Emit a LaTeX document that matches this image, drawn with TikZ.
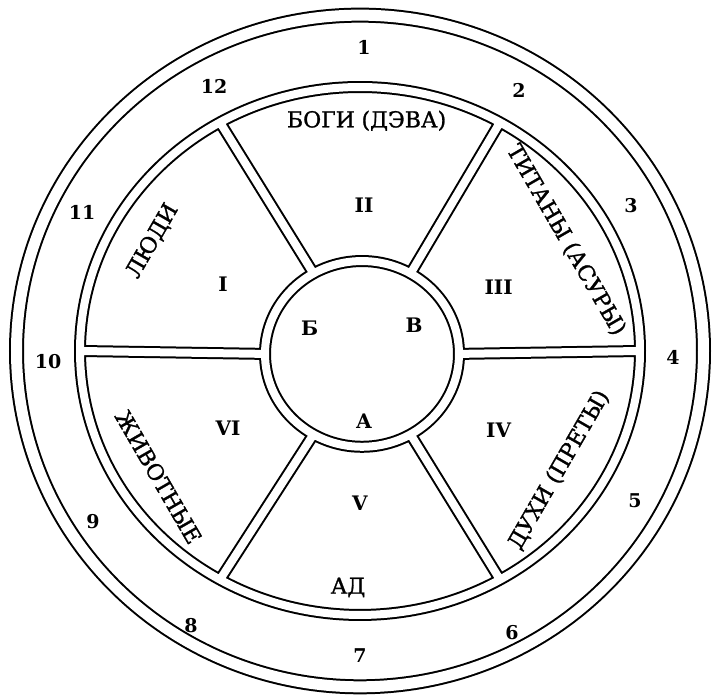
\documentclass[tikz,border=0pt]{standalone}
\usepackage{fontspec}
\setmainfont{DejaVu Serif}
\newfontfamily\heavyserif[FakeBold=1.2]{DejaVu Serif}
\usetikzlibrary{calc}

\begin{document}
\begin{tikzpicture}[x=0.5pt, y=0.48885pt,
  every node/.style={font=\fontsize{11}{13}\selectfont\heavyserif, inner sep=0pt},
  num/.style={font=\fontsize{9.5}{12}\selectfont\bfseries},
  roman/.style={font=\fontsize{10}{12}\selectfont\bfseries},
  channel/.style={double, double distance=4pt, line width=1pt},
  rim/.style={double, double distance=5.5pt, line width=1pt}]
\useasboundingbox (0,0) rectangle (714,714);
\def\Rrim{343.5}\def\Rring{280}\def\Rringy{270}\def\Rhub{97}\def\Rhuby{95}
\coordinate (c) at (360,355);
\coordinate (hub) at (362,352);
% outer rim with the twelve positions
\draw[rim] (c) circle (\Rrim);
\foreach \n/\x/\y in {1/364/665, 2/519/621, 3/631/504, 4/673/348.5,
  5/635/201.6, 6/512/66.6, 7/360/43, 8/191/73.7, 9/93/181,
  10/48/343.8, 11/82/497, 12/214/625.5}
  \node[num] (pos\n) at (\x,\y) {\n};
% inner ring, hub and six spokes drawn as one channel
\draw[channel] (c) ellipse [x radius=\Rring, y radius=\Rringy]
  (hub) ellipse [x radius=\Rhub, y radius=\Rhuby]
  \foreach \a in {0,60,...,300}{
    ($(hub)+(\a:{\Rhub} and {\Rhuby})$) -- ($(c)+(\a:{\Rring} and {\Rringy})$) };
% sector numbers
\foreach \r/\x/\y in {I/223/423.1, II/364/504.3, III/498.6/420.5,
  IV/498.6/274.2, V/360/199.5, VI/228/276.2}
  \node[roman] (sec\r) at (\x,\y) {\r};
% letters in the hub
\node[roman] (hubB) at (309.6,378.5) {Б};
\node[roman] (hubV) at (414,381) {В};
\node[roman] (hubA) at (364,283.4) {А};
% names of the worlds
\node (gods) at (366.6,590.5) {БОГИ\hspace{0.3em}(ДЭВА)};
\node (hell) at (348,113.2) {АД};
\node[rotate=60] (people) at (152.5,467.5) {ЛЮДИ};
\node[rotate=-60] (titans) at (566,468.5) {ТИТАНЫ (АСУРЫ)};
\node[rotate=60] (spirits) at (559,233.3) {ДУХИ (ПРЕТЫ)};
\node[rotate=-60] (animals) at (158.5,226.1) {ЖИВОТНЫЕ};
\end{tikzpicture}
\end{document}
